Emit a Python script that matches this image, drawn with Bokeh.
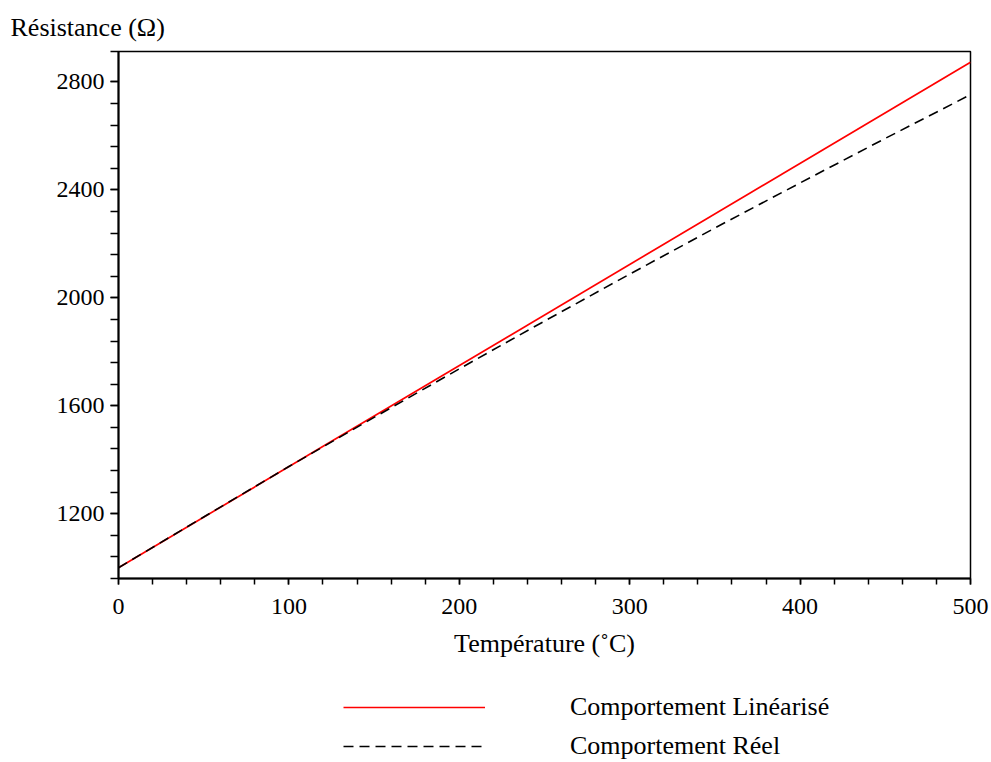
from bokeh.plotting import figure
from bokeh.models import (Range1d, FixedTicker, Legend, LegendItem, Title)
from bokeh.layouts import column
from bokeh.embed import file_html
from bokeh.resources import INLINE

# Data
temp_lin = [0, 500]
res_lin = [1000, 2873]

temp_real = [0, 50, 100, 150, 200, 250, 300, 350, 400, 450, 500]
res_real = [1000, 1188, 1375, 1557, 1737, 1914, 2088, 2259, 2426, 2591, 2753]

x_major = [0, 100, 200, 300, 400, 500]
y_major = [1200, 1600, 2000, 2400, 2800]
y_minor = [960, 1040, 1120, 1200, 1280, 1360, 1440, 1520, 1600, 1680, 1760, 1840,
           1920, 2000, 2080, 2160, 2240, 2320, 2400, 2480, 2560, 2640, 2720, 2800, 2912]

labels = ["Comportement Linéarisé", "Comportement Réel"]

FONT = "Liberation Serif"
RED = "#ff0000"
DASH = "10 6"

p = figure(width=991, height=680, output_backend="svg", toolbar_location=None,
           x_range=Range1d(0, 500), y_range=Range1d(960, 2913),
           min_border_left=118, min_border_right=21, min_border_top=51, min_border_bottom=102)
p.grid.visible = False
p.outline_line_color = "black"
p.outline_line_width = 1.5
p.background_fill_color = "white"
p.border_fill_color = "white"

p.title = Title(text="Résistance (Ω)", align="left", offset=-108, standoff=19,
                text_font=FONT, text_font_size="26px", text_font_style="normal",
                text_color="black")

p.line(temp_lin, res_lin, line_color=RED, line_width=1.7)
p.line(temp_real, res_real, line_color="black", line_width=1.6, line_dash=DASH)

xa = p.xaxis[0]
xa.ticker = FixedTicker(ticks=x_major, minor_ticks=list(range(0, 501, 20)))
xa.axis_label = "Température (˚C)"
ya = p.yaxis[0]
ya.ticker = FixedTicker(ticks=y_major, minor_ticks=y_minor)

for ax in (xa, ya):
    ax.axis_line_color = "black"
    ax.axis_line_width = 2
    ax.major_tick_line_color = "black"
    ax.minor_tick_line_color = "black"
    ax.major_tick_line_width = 1.5
    ax.minor_tick_line_width = 1.5
    ax.major_tick_in = 0
    ax.minor_tick_in = 0
    ax.major_label_text_font = FONT
    ax.major_label_text_font_size = "24px"
    ax.major_label_text_color = "black"
    ax.axis_label_text_font = FONT
    ax.axis_label_text_font_size = "26px"
    ax.axis_label_text_font_style = "normal"
    ax.axis_label_text_color = "black"

xa.major_tick_out = 6
xa.minor_tick_out = 6
xa.major_label_standoff = 14
xa.axis_label_standoff = 12
ya.major_tick_out = 8
ya.minor_tick_out = 8
ya.major_label_standoff = 6

# Legend strip below the chart (same series, out of view, only used for the legend)
leg = figure(width=991, height=82, output_backend="svg", toolbar_location=None,
             x_range=Range1d(10000, 10001), y_range=Range1d(0, 1),
             x_axis_location=None, y_axis_location=None,
             min_border=0)
leg.grid.visible = False
leg.outline_line_color = None
leg.background_fill_color = "white"
leg.border_fill_color = "white"
l1 = leg.line(temp_lin, res_lin, line_color=RED, line_width=1.7)
l2 = leg.line(temp_real, res_real, line_color="black", line_width=1.6, line_dash=DASH)

legend = Legend(items=[LegendItem(label=labels[0], renderers=[l1]),
                       LegendItem(label=labels[1], renderers=[l2])],
                location=(225, 1), orientation="vertical",
                glyph_width=142, glyph_height=30, label_height=30, spacing=9,
                label_standoff=85, padding=0, margin=0,
                border_line_alpha=0, background_fill_alpha=0,
                label_text_font=FONT, label_text_font_size="26px",
                label_text_color="black")
leg.add_layout(legend, "center")

layout = column(p, leg, spacing=0)
open("out.html", "w").write(file_html(layout, INLINE))
